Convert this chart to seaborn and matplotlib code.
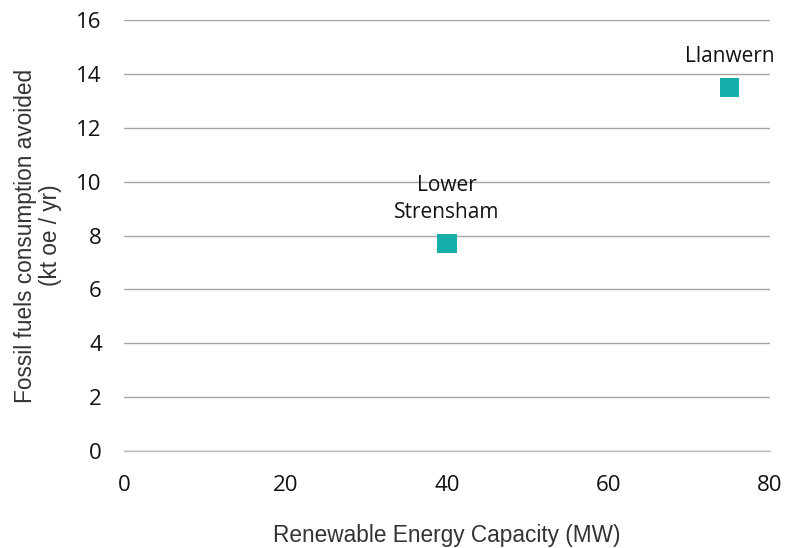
import matplotlib
matplotlib.use("Agg")
import matplotlib.pyplot as plt
import seaborn as sns
import pandas as pd

# Data
sites = ["Lower\nStrensham", "Llanwern"]
capacity_mw = [40, 75]
fossil_avoided = [7.7, 13.5]

x_ticks = [0, 20, 40, 60, 80]
y_ticks = [0, 2, 4, 6, 8, 10, 12, 14, 16]

df = pd.DataFrame({"site": sites, "capacity": capacity_mw, "avoided": fossil_avoided})

sns.set_style("white")
plt.rcParams["font.family"] = ["Open Sans", "DejaVu Sans"]

fig = plt.figure(figsize=(7.96, 5.48), dpi=100)
ax = fig.add_axes([0.1558, 0.177, 0.8115, 0.7865])

sns.scatterplot(data=df, x="capacity", y="avoided", marker="s", s=190,
                color="#17AFAA", edgecolor="none", ax=ax, zorder=3)

# point labels sit above each marker
for _, row in df.iterrows():
    ax.annotate(row["site"], (row["capacity"], row["avoided"]),
                xytext=(0, 15), textcoords="offset points",
                ha="center", va="bottom", fontsize=15, color="#111111",
                linespacing=1.35)

ax.set_xlim(0, 80)
ax.set_ylim(0, 16)
ax.set_xticks(x_ticks)
ax.set_yticks(y_ticks)
ax.yaxis.grid(True, color="#a6a6a6", linewidth=1.0)
ax.set_axisbelow(True)

for side in ["top", "right", "left"]:
    ax.spines[side].set_visible(False)
ax.spines["bottom"].set_color("#bfbfbf")
ax.spines["bottom"].set_linewidth(1.0)

ax.tick_params(axis="x", length=3.6, color="#bfbfbf", labelsize=16, pad=13.5, labelcolor="#111111")
ax.tick_params(axis="y", length=0, labelsize=16, pad=16, labelcolor="#111111")

ax.set_xlabel("Renewable Energy Capacity (MW)", fontsize=16.3, color="#333333",
              labelpad=20, family=["Liberation Sans", "DejaVu Sans"])
ax.set_ylabel("Fossil fuels consumption avoided\n(kt oe / yr)", fontsize=16.3,
              color="#333333", labelpad=10, family=["Liberation Sans", "DejaVu Sans"],
              linespacing=1.15)

fig.savefig("out.png", dpi=100)
